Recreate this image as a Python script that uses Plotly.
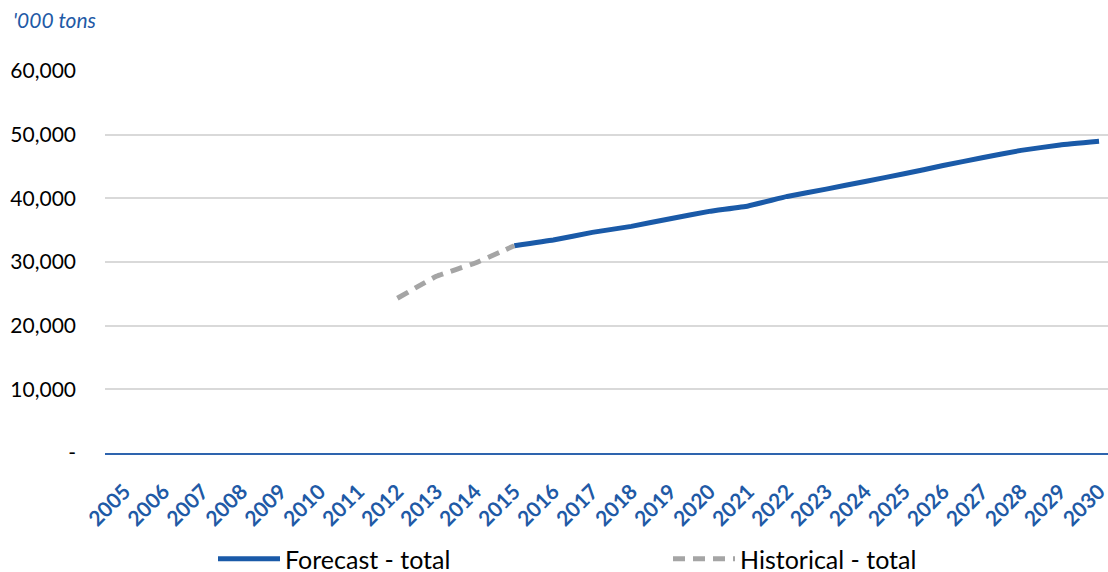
import plotly.graph_objects as go

years = [str(y) for y in range(2005, 2031)]

hist_years = ["2012", "2013", "2014", "2015"]
hist_total = [24300, 27750, 29850, 32550]

fc_years = [str(y) for y in range(2015, 2031)]
fc_total = [32550, 33450, 34650, 35600, 36800, 37950, 38800, 40300,
            41450, 42650, 43850, 45150, 46380, 47530, 48380, 48950]

y_ticks = [0, 10000, 20000, 30000, 40000, 50000, 60000]
y_tick_text = ["-", "10,000", "20,000", "30,000", "40,000", "50,000", "60,000"]

BLUE = "#1A5AA8"
GREY = "#A5A5A5"
FONT = "Lato"
W, H = 1108, 572


def legend_box(x_px):
    return dict(
        orientation="h", xref="container", yref="container",
        x=x_px / W, xanchor="left", y=(H - 559) / H, yanchor="middle",
        font=dict(size=25, color="black", family=FONT),
        itemwidth=62, bgcolor="rgba(0,0,0,0)",
    )


fig = go.Figure()
fig.add_trace(go.Scatter(
    x=fc_years, y=fc_total, mode="lines", name="Forecast - total",
    line=dict(color=BLUE, width=5, shape="spline", smoothing=0.3),
    legend="legend",
))
fig.add_trace(go.Scatter(
    x=hist_years, y=hist_total, mode="lines", name="Historical - total",
    line=dict(color=GREY, width=5, dash="12px,8px", shape="spline", smoothing=0.3),
    legend="legend2",
))

fig.update_layout(
    width=W, height=H,
    margin=dict(l=105, r=0, t=71, b=119, autoexpand=False),
    paper_bgcolor="white", plot_bgcolor="white",
    font=dict(family=FONT, color="black"),
    showlegend=True,
    legend=legend_box(213),
    legend2=legend_box(668),
    xaxis=dict(
        type="category", categoryorder="array", categoryarray=years,
        range=[-0.5, 25.23], showgrid=False, showline=True,
        linecolor="#2E64AE", linewidth=2, ticks="",
        tickangle=-45, ticklabelstandoff=16,
        tickfont=dict(size=21, color="#1F5AA6", family=FONT, weight="bold"),
        zeroline=False,
    ),
    yaxis=dict(
        range=[0, 60000], tickvals=y_ticks, ticktext=y_tick_text,
        showgrid=True, gridcolor="#D9D9D9", gridwidth=1.5,
        zeroline=False, showline=False, ticks="",
        tickfont=dict(size=21, color="black", family=FONT),
        ticklabelstandoff=28,
    ),
    annotations=[dict(
        text="'000 tons", xref="paper", yref="paper", x=-0.094, y=1.0,
        xanchor="left", yanchor="bottom", yshift=37, showarrow=False,
        font=dict(size=21, color="#1F5AA6", family=FONT, style="italic"),
    )],
)

fig.write_html("out.html")
